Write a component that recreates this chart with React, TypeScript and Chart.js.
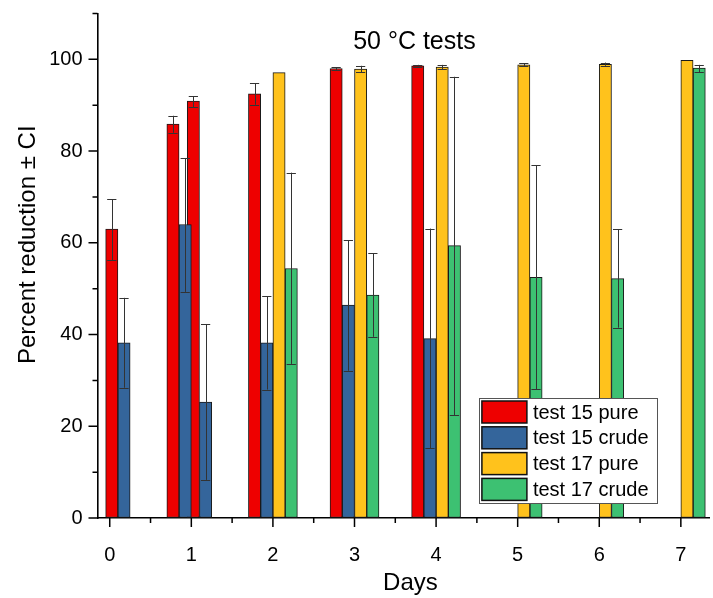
import React, { useEffect, useRef } from "react";
import { Chart, registerables } from "chart.js";

Chart.register(...registerables);

// ---- data ----
const seriesNames = ["test 15 pure", "test 15 crude", "test 17 pure", "test 17 crude"];
const seriesColors = ["#EE0000", "#34659B", "#FFC21C", "#3DC172"];

// sampling days (centre of each pure/crude pair)
const test15Days = [0.1, 0.85, 1.1, 1.85, 2.85, 3.85];
const test17Days = [2.15, 3.15, 4.15, 5.15, 6.15, 7.15];

const test15Pure = [63.0, 85.9, 90.9, 92.5, 98.0, 98.6];
const test15PureLow = [56.2, 84.0, 89.6, 90.1, 97.7, 98.4];
const test15PureHigh = [69.5, 87.7, 92.0, 94.8, 98.3, 98.8];

const test15Crude = [38.2, 64.0, 25.3, 38.2, 46.4, 39.1];
const test15CrudeLow = [28.4, 49.3, 8.3, 28.0, 32.1, 15.2];
const test15CrudeHigh = [48.0, 78.5, 42.3, 48.3, 60.6, 63.1];

const test17Pure = [97.1, 97.9, 98.3, 98.8, 98.9, 99.8];
const test17PureLow = [null, 97.2, 97.8, 98.5, 98.6, null];
const test17PureHigh = [null, 98.6, 98.8, 99.2, 99.3, null];

const test17Crude = [54.4, 48.6, 59.4, 52.5, 52.2, 98.1];
const test17CrudeLow = [33.6, 39.5, 22.4, 28.1, 41.5, 97.2];
const test17CrudeHigh = [75.3, 57.7, 96.2, 76.9, 63.0, 98.8];

const xMajorTicks = [0, 1, 2, 3, 4, 5, 6, 7];
const xMinorTicks = [0.5, 1.5, 2.5, 3.5, 4.5, 5.5, 6.5];
const yMajorTicks = [0, 20, 40, 60, 80, 100];
const yMinorTicks = [10, 30, 50, 70, 90, 110];

const chartTitle = "50 \u00B0C tests";
const xTitle = "Days";
const yTitle = "Percent reduction \u00B1 CI";

// ---- layout constants ----
const BAR_DAYS = 0.15;
const FONT = "'Liberation Sans', Arial, sans-serif";

const seriesDefs = [
  { days: test15Days, side: -1, vals: test15Pure, lo: test15PureLow, hi: test15PureHigh, order: 1 },
  { days: test15Days, side: 1, vals: test15Crude, lo: test15CrudeLow, hi: test15CrudeHigh, order: 0 },
  { days: test17Days, side: -1, vals: test17Pure, lo: test17PureLow, hi: test17PureHigh, order: 0 },
  { days: test17Days, side: 1, vals: test17Crude, lo: test17CrudeLow, hi: test17CrudeHigh, order: 0 },
];

const errorBarPlugin = {
  id: "errorBars",
  afterDatasetsDraw(chart: any) {
    const ctx = chart.ctx;
    const ys = chart.scales.y;
    ctx.save();
    ctx.strokeStyle = "#333333";
    ctx.lineWidth = 1;
    seriesDefs.forEach((s, di) => {
      const meta = chart.getDatasetMeta(di);
      meta.data.forEach((bar: any, i: number) => {
        const lo = s.lo[i];
        const hi = s.hi[i];
        if (lo == null || hi == null) return;
        const { x, width } = bar.getProps(["x", "width"], true);
        const yl = ys.getPixelForValue(lo);
        const yh = ys.getPixelForValue(hi);
        const half = width / 2 - 1.5;
        const cx = Math.round(x) + 0.5;
        ctx.beginPath();
        ctx.moveTo(cx, yl);
        ctx.lineTo(cx, yh);
        ctx.moveTo(x - half, Math.round(yl) + 0.5);
        ctx.lineTo(x + half, Math.round(yl) + 0.5);
        ctx.moveTo(x - half, Math.round(yh) + 0.5);
        ctx.lineTo(x + half, Math.round(yh) + 0.5);
        ctx.stroke();
      });
    });
    ctx.restore();
  },
};

const decorPlugin = {
  id: "decor",
  afterDraw(chart: any) {
    const ctx = chart.ctx;
    const xs = chart.scales.x;
    const ys = chart.scales.y;
    const area = chart.chartArea;
    ctx.save();
    // ticks
    ctx.strokeStyle = "#000";
    ctx.lineWidth = 1.5;
    ctx.beginPath();
    const tick = (v: number, len: number, horiz: boolean) => {
      if (horiz) {
        const px = xs.getPixelForValue(v);
        ctx.moveTo(px, area.bottom);
        ctx.lineTo(px, area.bottom + len);
      } else {
        const py = ys.getPixelForValue(v);
        ctx.moveTo(area.left, py);
        ctx.lineTo(area.left - len, py);
      }
    };
    xMajorTicks.forEach((v) => tick(v, 9, true));
    xMinorTicks.forEach((v) => tick(v, 5, true));
    yMajorTicks.forEach((v) => tick(v, 9, false));
    yMinorTicks.forEach((v) => tick(v, 5, false));
    ctx.stroke();

    // titles
    ctx.fillStyle = "#000";
    ctx.textAlign = "center";
    ctx.textBaseline = "alphabetic";
    ctx.font = `25px ${FONT}`;
    ctx.fillText(chartTitle, (area.left + area.right) / 2 + 11, area.top + 35);
    ctx.font = `24px ${FONT}`;
    ctx.fillText(xTitle, (area.left + area.right) / 2 + 7, area.bottom + 72);
    ctx.save();
    ctx.translate(area.left - 63, (area.top + area.bottom) / 2 - 21);
    ctx.rotate(-Math.PI / 2);
    ctx.fillText(yTitle, 0, 0);
    ctx.restore();

    // legend
    const bw = 178;
    const bh = 105;
    const bx = area.right - 52.5 - bw;
    const by = area.bottom - 15 - bh;
    ctx.fillStyle = "#fff";
    ctx.fillRect(bx, by, bw, bh);
    ctx.strokeStyle = "#555";
    ctx.lineWidth = 1;
    ctx.strokeRect(Math.round(bx) + 0.5, Math.round(by) + 0.5, bw, bh);
    ctx.font = `20px ${FONT}`;
    ctx.textAlign = "left";
    ctx.textBaseline = "middle";
    seriesNames.forEach((name, i) => {
      const sy = by + 3 + i * 25.8;
      ctx.fillStyle = seriesColors[i];
      ctx.fillRect(bx + 3, sy, 45, 22);
      ctx.strokeStyle = "#111";
      ctx.lineWidth = 1.5;
      ctx.strokeRect(bx + 3, sy, 45, 22);
      ctx.fillStyle = "#000";
      ctx.fillText(name, bx + 54, sy + 12);
    });
    ctx.restore();
  },
};

export default function App() {
  const ref = useRef<HTMLCanvasElement | null>(null);
  useEffect(() => {
    if (!ref.current) return;
    const thickness = (c: any) => {
      const xs = c.chart.scales.x;
      if (!xs) return 12;
      return Math.abs(xs.getPixelForValue(BAR_DAYS) - xs.getPixelForValue(0));
    };
    const datasets = seriesDefs.map((s, i) => ({
      label: seriesNames[i],
      data: s.days.map((d, j) => ({ x: d + (s.side * BAR_DAYS) / 2, y: s.vals[j] })),
      backgroundColor: seriesColors[i],
      borderColor: "#1a1a1a",
      borderWidth: 1,
      borderSkipped: false,
      order: s.order,
      grouped: false,
      barThickness: thickness,
    }));
    const chart = new Chart(ref.current, {
      type: "bar",
      data: { datasets },
      plugins: [errorBarPlugin, decorPlugin],
      options: {
        responsive: false,
        animation: false,
        devicePixelRatio: 1,
        layout: { padding: { left: 0, top: 13.5, right: 3.6, bottom: 0 } },
        plugins: { legend: { display: false }, title: { display: false }, tooltip: { enabled: false } },
        font: { family: FONT },
        scales: {
          x: {
            type: "linear",
            min: -0.15,
            max: 7.35,
            offset: false,
            afterBuildTicks: (axis: any) => {
              axis.ticks = xMajorTicks.map((v) => ({ value: v }));
            },
            afterFit: (axis: any) => {
              axis.height = 80;
              axis.paddingLeft = 0;
              axis.paddingRight = 0;
            },
            ticks: { color: "#000", font: { family: FONT, size: 20 }, padding: 25, maxRotation: 0, autoSkip: false },
            grid: { display: true, drawOnChartArea: false, drawTicks: false, offset: false },
            border: { display: true, color: "#000", width: 1.6 },
          },
          y: {
            type: "linear",
            min: 0,
            max: 110,
            afterBuildTicks: (axis: any) => {
              axis.ticks = yMajorTicks.map((v) => ({ value: v }));
            },
            afterFit: (axis: any) => {
              axis.width = 97.5;
              axis.paddingTop = 0;
              axis.paddingBottom = 0;
            },
            ticks: { color: "#000", font: { family: FONT, size: 20 }, padding: 15 },
            grid: { display: true, drawOnChartArea: false, drawTicks: false },
            border: { display: true, color: "#000", width: 1.6 },
          },
        },
      } as any,
    });
    return () => chart.destroy();
  }, []);
  return (
    <div style={{ position: "fixed", left: 0, top: 0, width: 713, height: 598, background: "#fff" }}>
      <canvas ref={ref} width={713} height={598} style={{ display: "block" }} />
    </div>
  );
}
